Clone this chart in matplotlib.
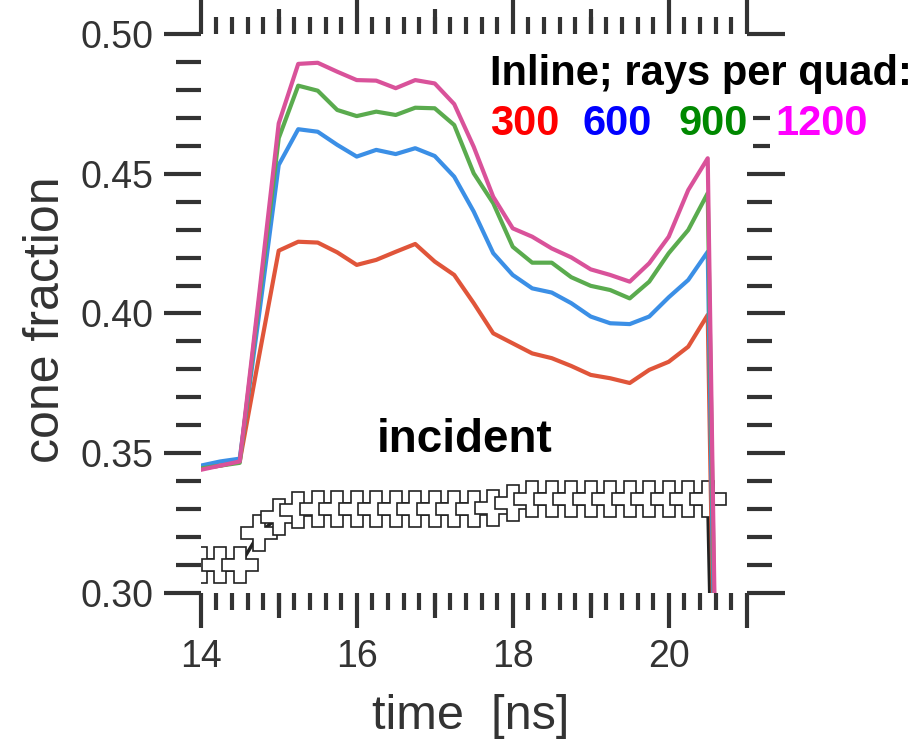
import matplotlib
matplotlib.use('Agg')
import matplotlib.pyplot as plt
from matplotlib.ticker import MultipleLocator, FixedLocator, FormatStrFormatter

plt.rcParams['font.family'] = ['Liberation Sans', 'DejaVu Sans']

# time axis in ns, one sample every 0.25 ns
time_ns = [14.0, 14.25, 14.5, 14.75, 15.0, 15.25, 15.5, 15.75, 16.0, 16.25,
           16.5, 16.75, 17.0, 17.25, 17.5, 17.75, 18.0, 18.25, 18.5, 18.75,
           19.0, 19.25, 19.5, 19.75, 20.0, 20.25, 20.5, 20.75]

# cone fraction, inline, for each number of rays per quad
frac_300 = [0.3445, 0.3455, 0.347, 0.385, 0.4225, 0.4257, 0.4254, 0.4219, 0.4174, 0.4192,
            0.4221, 0.4249, 0.4186, 0.4138, 0.4037, 0.3929, 0.3893, 0.3857, 0.3840, 0.3812,
            0.3780, 0.3768, 0.3751, 0.3798, 0.3827, 0.3881, 0.3995, 0.0]
frac_600 = [0.3455, 0.347, 0.348, 0.400, 0.4532, 0.4660, 0.4651, 0.4604, 0.4562, 0.4586,
            0.4571, 0.4592, 0.4564, 0.4490, 0.4365, 0.4216, 0.4138, 0.4090, 0.4075, 0.4037,
            0.3989, 0.3965, 0.3962, 0.3989, 0.4058, 0.4120, 0.4221, 0.0]
frac_900 = [0.3445, 0.3455, 0.3465, 0.405, 0.4628, 0.4816, 0.4798, 0.4729, 0.4707, 0.4723,
            0.4711, 0.4737, 0.4735, 0.4675, 0.4502, 0.4395, 0.4239, 0.4182, 0.4182, 0.4130,
            0.4099, 0.4084, 0.4054, 0.4114, 0.4216, 0.4299, 0.4431, 0.0]
frac_1200 = [0.344, 0.3455, 0.347, 0.407, 0.4681, 0.4894, 0.4898, 0.4866, 0.4836, 0.4834,
             0.4807, 0.4836, 0.4824, 0.4750, 0.4597, 0.4418, 0.4305, 0.4275, 0.4233, 0.4201,
             0.4158, 0.4138, 0.4114, 0.4180, 0.4275, 0.4442, 0.4556, 0.0]
incident = [0.3098, 0.3098, 0.3098, 0.3213, 0.3272, 0.3296, 0.3300, 0.3300, 0.3300, 0.3300,
            0.3300, 0.3300, 0.3300, 0.3300, 0.3300, 0.3305, 0.3320, 0.3335, 0.3335, 0.3335,
            0.3335, 0.3335, 0.3335, 0.3335, 0.3335, 0.3335, 0.3335, 0.0]

rays = ['300', '600', '900', '1200']
line_colors = ['#e0553a', '#3b8fe6', '#5aab4e', '#d9529a']
text_colors = ['#ff0000', '#0000ff', '#008800', '#ff00ff']

ink = '#333333'

fig = plt.figure(figsize=(9.22, 7.44), dpi=100)
ax = fig.add_axes([0.2177, 0.2034, 0.5922, 0.7505])

ax.plot(time_ns, incident, color='#222222', lw=2.5, marker='P', ms=26,
        mfc='white', mec='#222222', mew=1.2, zorder=2)
for vals, c in zip([frac_300, frac_600, frac_900, frac_1200], line_colors):
    ax.plot(time_ns, vals, color=c, lw=3, zorder=3)

ax.set_xlim(14, 21)
ax.set_ylim(0.30, 0.50)
for s in ax.spines.values():
    s.set_visible(False)

ax.xaxis.set_major_locator(FixedLocator([14, 16, 18, 20, 21]))
ax.set_xticklabels(['14', '16', '18', '20', ''])
ax.xaxis.set_minor_locator(MultipleLocator(0.2))
ax.yaxis.set_major_locator(MultipleLocator(0.05))
ax.yaxis.set_minor_locator(MultipleLocator(0.01))
ax.yaxis.set_major_formatter(FormatStrFormatter('%.2f'))

ax.tick_params(which='both', direction='out', top=True, right=True,
               color=ink, width=3, labelcolor=ink, labelsize=27)
ax.tick_params(axis='x', which='major', length=25, pad=8)
ax.tick_params(axis='x', which='minor', length=12)
ax.tick_params(axis='y', which='major', length=27, pad=7)
ax.tick_params(axis='y', which='minor', length=18)

# medium ticks at odd ns
ax2 = fig.add_axes(ax.get_position(), frameon=False)
ax2.set_xlim(14, 21)
ax2.set_xticks([15, 17, 19])
ax2.set_yticks([])
ax2.tick_params(axis='x', direction='out', top=True, bottom=True, length=18,
                width=3, color=ink, labelbottom=False)
ax2.patch.set_visible(False)

fig.text(0.05, 0.57, 'cone fraction', rotation=90, ha='center', va='center',
         fontsize=36, color=ink)
fig.text(0.51, 0.037, 'time  [ns]', ha='center', va='center', fontsize=35, color=ink)

fig.text(0.5315, 0.8858, 'Inline; rays per quad:', fontsize=30, fontweight='bold',
         color='black', va='baseline', zorder=10,
         bbox=dict(facecolor='white', edgecolor='none', pad=6))
xs = [0.5315, 0.6323, 0.7354, 0.8406]
for x, r, c in zip(xs, rays, text_colors):
    fig.text(x, 0.8185, r, fontsize=30, fontweight='bold', color=c, va='baseline',
             zorder=10, bbox=dict(facecolor='white', edgecolor='none', pad=4))

ax.text(16.26, 0.3504, 'incident', fontsize=33, fontweight='bold', color='black',
        va='baseline', zorder=5)

fig.savefig('out.png', dpi=100)
